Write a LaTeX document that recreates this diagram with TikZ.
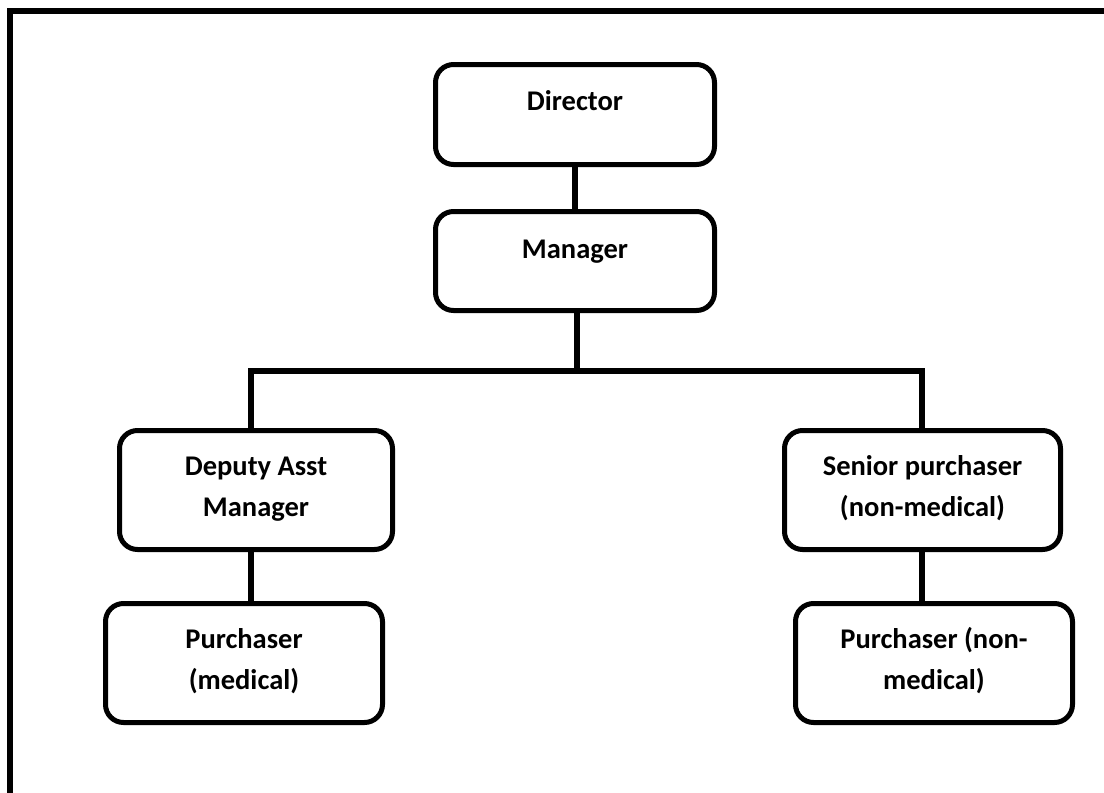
\documentclass[tikz,border=0pt]{standalone}
\usepackage{fontspec}
\setmainfont{Carlito}
\usetikzlibrary{calc}
\begin{document}
\begin{tikzpicture}[x=1pt,y=-1pt,
  box/.style={draw=black,line width=5pt,rounded corners=18pt,inner sep=0pt},
  lbl/.style={font=\fontsize{28.5}{41}\selectfont\bfseries,align=center,inner sep=0pt,anchor=base},
  link/.style={draw=black,line width=5.5pt}]
\useasboundingbox (0,0) rectangle (1104,793);
% partial frame: top and left edges only
\draw[line width=6pt] (10,793) -- (10,11) -- (1104,11);
% boxes
\node[box,minimum width=279pt,minimum height=100pt] (dir) at (575,114.5) {};
\node[box,minimum width=279pt,minimum height=99pt] (man) at (575,261) {};
\node[box,minimum width=273pt,minimum height=119pt] (dep) at (256,490) {};
\node[box,minimum width=276pt,minimum height=119pt] (sen) at (922.5,490) {};
\node[box,minimum width=277pt,minimum height=119pt] (pm) at (244,663) {};
\node[box,minimum width=277pt,minimum height=119pt] (pn) at (934,663) {};
% labels (base anchor sits on the last line)
\node[lbl] (dirT) at (575,110) {Director};
\node[lbl] (manT) at (575,258) {Manager};
\node[lbl] (depT) at (256,516) {Deputy Asst\\Manager};
\node[lbl] (senT) at (922.5,516) {Senior purchaser\\(non-medical)};
\node[lbl] (pmT) at (244,689) {Purchaser\\(medical)};
\node[lbl] (pnT) at (934,689) {Purchaser (non-\\medical)};
% connectors
\coordinate (bl) at (251,371);
\coordinate (br) at (922,371);
\coordinate (bm) at (577,371);
\draw[link] (dir.south) -- (man.north);
\draw[link] (man.south -| bm) -- (bm);
\draw[link] (bl |- dep.north) -- (bl) -- (br) -- (br |- sen.north);
\draw[link] (bl |- dep.south) -- (bl |- pm.north);
\draw[link] (br |- sen.south) -- (br |- pn.north);
\end{tikzpicture}
\end{document}
